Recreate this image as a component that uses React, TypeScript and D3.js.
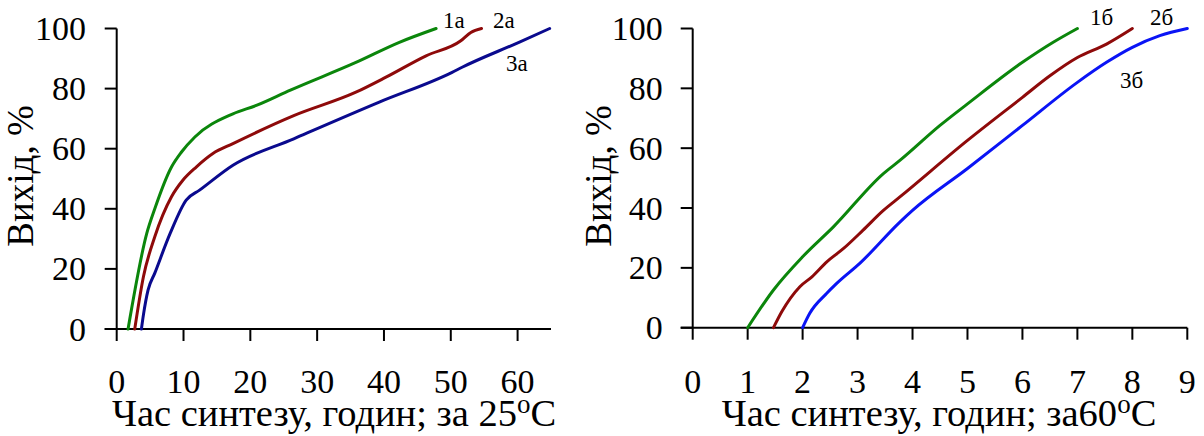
import React from "react";
import * as d3 from "d3";

// ---- Data ----
// Left panel: synthesis at 25 °C, time in hours
const time1a = [1.7, 4.5, 5.7, 8.2, 9.7, 11.7, 17.4, 20.9, 26.0, 35.8, 42.3, 47.8];
const yield1a = [0, 31.8, 40, 53.9, 58.9, 63.9, 71.6, 74.4, 79.5, 88.7, 95.4, 100];
const time2a = [2.7, 4.0, 5.7, 8.2, 9.9, 11.9, 14.4, 17.4, 26.5, 35.8, 40.3, 46.3, 51.5, 53.0, 54.6];
const yield2a = [0, 17.4, 30.7, 44, 49.5, 53.9, 58.4, 61.7, 71, 78.8, 83.8, 90.9, 95.9, 98.7, 100];
const time3a = [3.7, 4.0, 4.7, 5.7, 8.0, 10.4, 12.4, 17.4, 26.5, 39.3, 50.2, 51.7, 60.2, 64.8];
const yield3a = [0, 4.7, 13, 18.6, 31.8, 42.9, 46.2, 54.5, 63.3, 75.5, 85.4, 87.1, 95.4, 100];

// Right panel: synthesis at 60 °C
const time1b = [1.0, 1.47, 2.0, 2.56, 3.47, 3.77, 4.5, 5.0, 6.0, 6.56, 7.0];
const yield1b = [0, 12.6, 23.7, 33.7, 51.5, 55.9, 67.6, 74.8, 88.7, 95.4, 100];
const time2b = [1.47, 1.62, 1.95, 2.17, 2.44, 2.74, 3.1, 3.47, 3.77, 5.0, 6.0, 6.5, 7.0, 7.53, 8.0];
const yield2b = [0, 5.3, 13.7, 17, 22, 26.4, 32.6, 39.2, 43.7, 62.6, 77, 84.2, 90.3, 94.8, 100];
const time3b = [2.0, 2.13, 2.44, 2.62, 3.04, 3.77, 4.0, 5.0, 6.0, 7.0, 7.53, 8.0, 8.5, 9.0];
const yield3b = [0, 4.8, 11.5, 14.8, 21.5, 35.3, 39.2, 53.2, 67.6, 82, 88.7, 93.7, 97.6, 100];

const yTicks = [0, 20, 40, 60, 80, 100];
const xTicksLeft = [0, 10, 20, 30, 40, 50, 60];
const xTicksRight = [0, 1, 2, 3, 4, 5, 6, 7, 8, 9];
const seriesLabelsLeft = ["1а", "2а", "3а"];
const seriesLabelsRight = ["1б", "2б", "3б"];
const yTitle = "Вихід, %";
const xTitleLeft = ["Час синтезу, годин; за 25", "o", "C"];
const xTitleRight = ["Час синтезу, годин; за60", "o", "C"];

const FONT = "Liberation Serif, Times New Roman, serif";

type Series = { x: number[]; y: number[]; color: string; label: string; lx: number; ly: number };

function Panel(props: {
  xDomain: [number, number];
  xRange: [number, number];
  yRange: [number, number];
  xTicks: number[];
  series: Series[];
  yLabelRight: number;
  yTitleX: number;
  xTitle: string[];
  xTitleCenter: number;
}) {
  const x = d3.scaleLinear().domain(props.xDomain).range(props.xRange);
  const y = d3.scaleLinear().domain([0, 100]).range(props.yRange);
  const line = d3
    .line<[number, number]>()
    .x((d) => x(d[0]))
    .y((d) => y(d[1]))
    .curve(d3.curveMonotoneX);
  const x0 = props.xRange[0];
  const y0 = y(0);
  const tickLen = 12;
  return (
    <g>
      {/* axes */}
      <line x1={x0} x2={x0} y1={y(100)} y2={y0} stroke="#000" strokeWidth={2} />
      <line x1={x0 - tickLen} x2={props.xRange[1]} y1={y0} y2={y0} stroke="#000" strokeWidth={2} />
      {yTicks.map((t) => (
        <g key={"yt" + t}>
          <line x1={x0 - tickLen} x2={x0} y1={y(t)} y2={y(t)} stroke="#000" strokeWidth={2} />
          <text
            x={props.yLabelRight}
            y={y(t) + 11.5}
            textAnchor="end"
            fontFamily={FONT}
            fontSize={34}
          >
            {t}
          </text>
        </g>
      ))}
      {props.xTicks.map((t) => (
        <g key={"xt" + t}>
          <line x1={x(t)} x2={x(t)} y1={y0} y2={y0 + tickLen} stroke="#000" strokeWidth={2} />
          <text x={x(t)} y={393} textAnchor="middle" fontFamily={FONT} fontSize={34}>
            {t}
          </text>
        </g>
      ))}
      {/* series */}
      {props.series.map((s) => (
        <g key={s.label}>
          <path
            d={line(s.x.map((v, i) => [v, s.y[i]] as [number, number])) || ""}
            fill="none"
            stroke={s.color}
            strokeWidth={3}
            strokeLinejoin="round"
            strokeLinecap="round"
          />
          <text x={s.lx} y={s.ly} fontFamily={FONT} fontSize={23}>
            {s.label}
          </text>
        </g>
      ))}
      {/* titles */}
      <text
        transform={`translate(${props.yTitleX},176) rotate(-90)`}
        textAnchor="middle"
        fontFamily={FONT}
        fontSize={37}
      >
        {yTitle}
      </text>
      <text x={props.xTitleCenter} y={426} textAnchor="middle" fontFamily={FONT} fontSize={38.5}>
        {props.xTitle[0]}
        <tspan fontSize={27} dy={-13}>
          {props.xTitle[1]}
        </tspan>
        <tspan dy={13}>{props.xTitle[2]}</tspan>
      </text>
    </g>
  );
}

export default function App() {
  const left: Series[] = [
    { x: time1a, y: yield1a, color: "#0b860b", label: seriesLabelsLeft[0], lx: 443, ly: 28 },
    { x: time2a, y: yield2a, color: "#8e0a0a", label: seriesLabelsLeft[1], lx: 493, ly: 28 },
    { x: time3a, y: yield3a, color: "#0a0a8e", label: seriesLabelsLeft[2], lx: 506, ly: 71 },
  ];
  const right: Series[] = [
    { x: time1b, y: yield1b, color: "#0b860b", label: seriesLabelsRight[0], lx: 1090, ly: 25 },
    { x: time2b, y: yield2b, color: "#8e0a0a", label: seriesLabelsRight[1], lx: 1150, ly: 25 },
    { x: time3b, y: yield3b, color: "#0a14f5", label: seriesLabelsRight[2], lx: 1120, ly: 88 },
  ];
  return (
    <svg
      width={1204}
      height={436}
      style={{ position: "absolute", left: 0, top: 0, background: "#fff" }}
    >
      <rect width={1204} height={436} fill="#fff" />
      <Panel
        xDomain={[0, 65]}
        xRange={[116.7, 551]}
        yRange={[329, 28.5]}
        xTicks={xTicksLeft}
        series={left}
        yLabelRight={86}
        yTitleX={33}
        xTitle={xTitleLeft}
        xTitleCenter={334}
      />
      <Panel
        xDomain={[0, 9]}
        xRange={[692.7, 1187.3]}
        yRange={[327.7, 28.5]}
        xTicks={xTicksRight}
        series={right}
        yLabelRight={662.7}
        yTitleX={611}
        xTitle={xTitleRight}
        xTitleCenter={939}
      />
    </svg>
  );
}
